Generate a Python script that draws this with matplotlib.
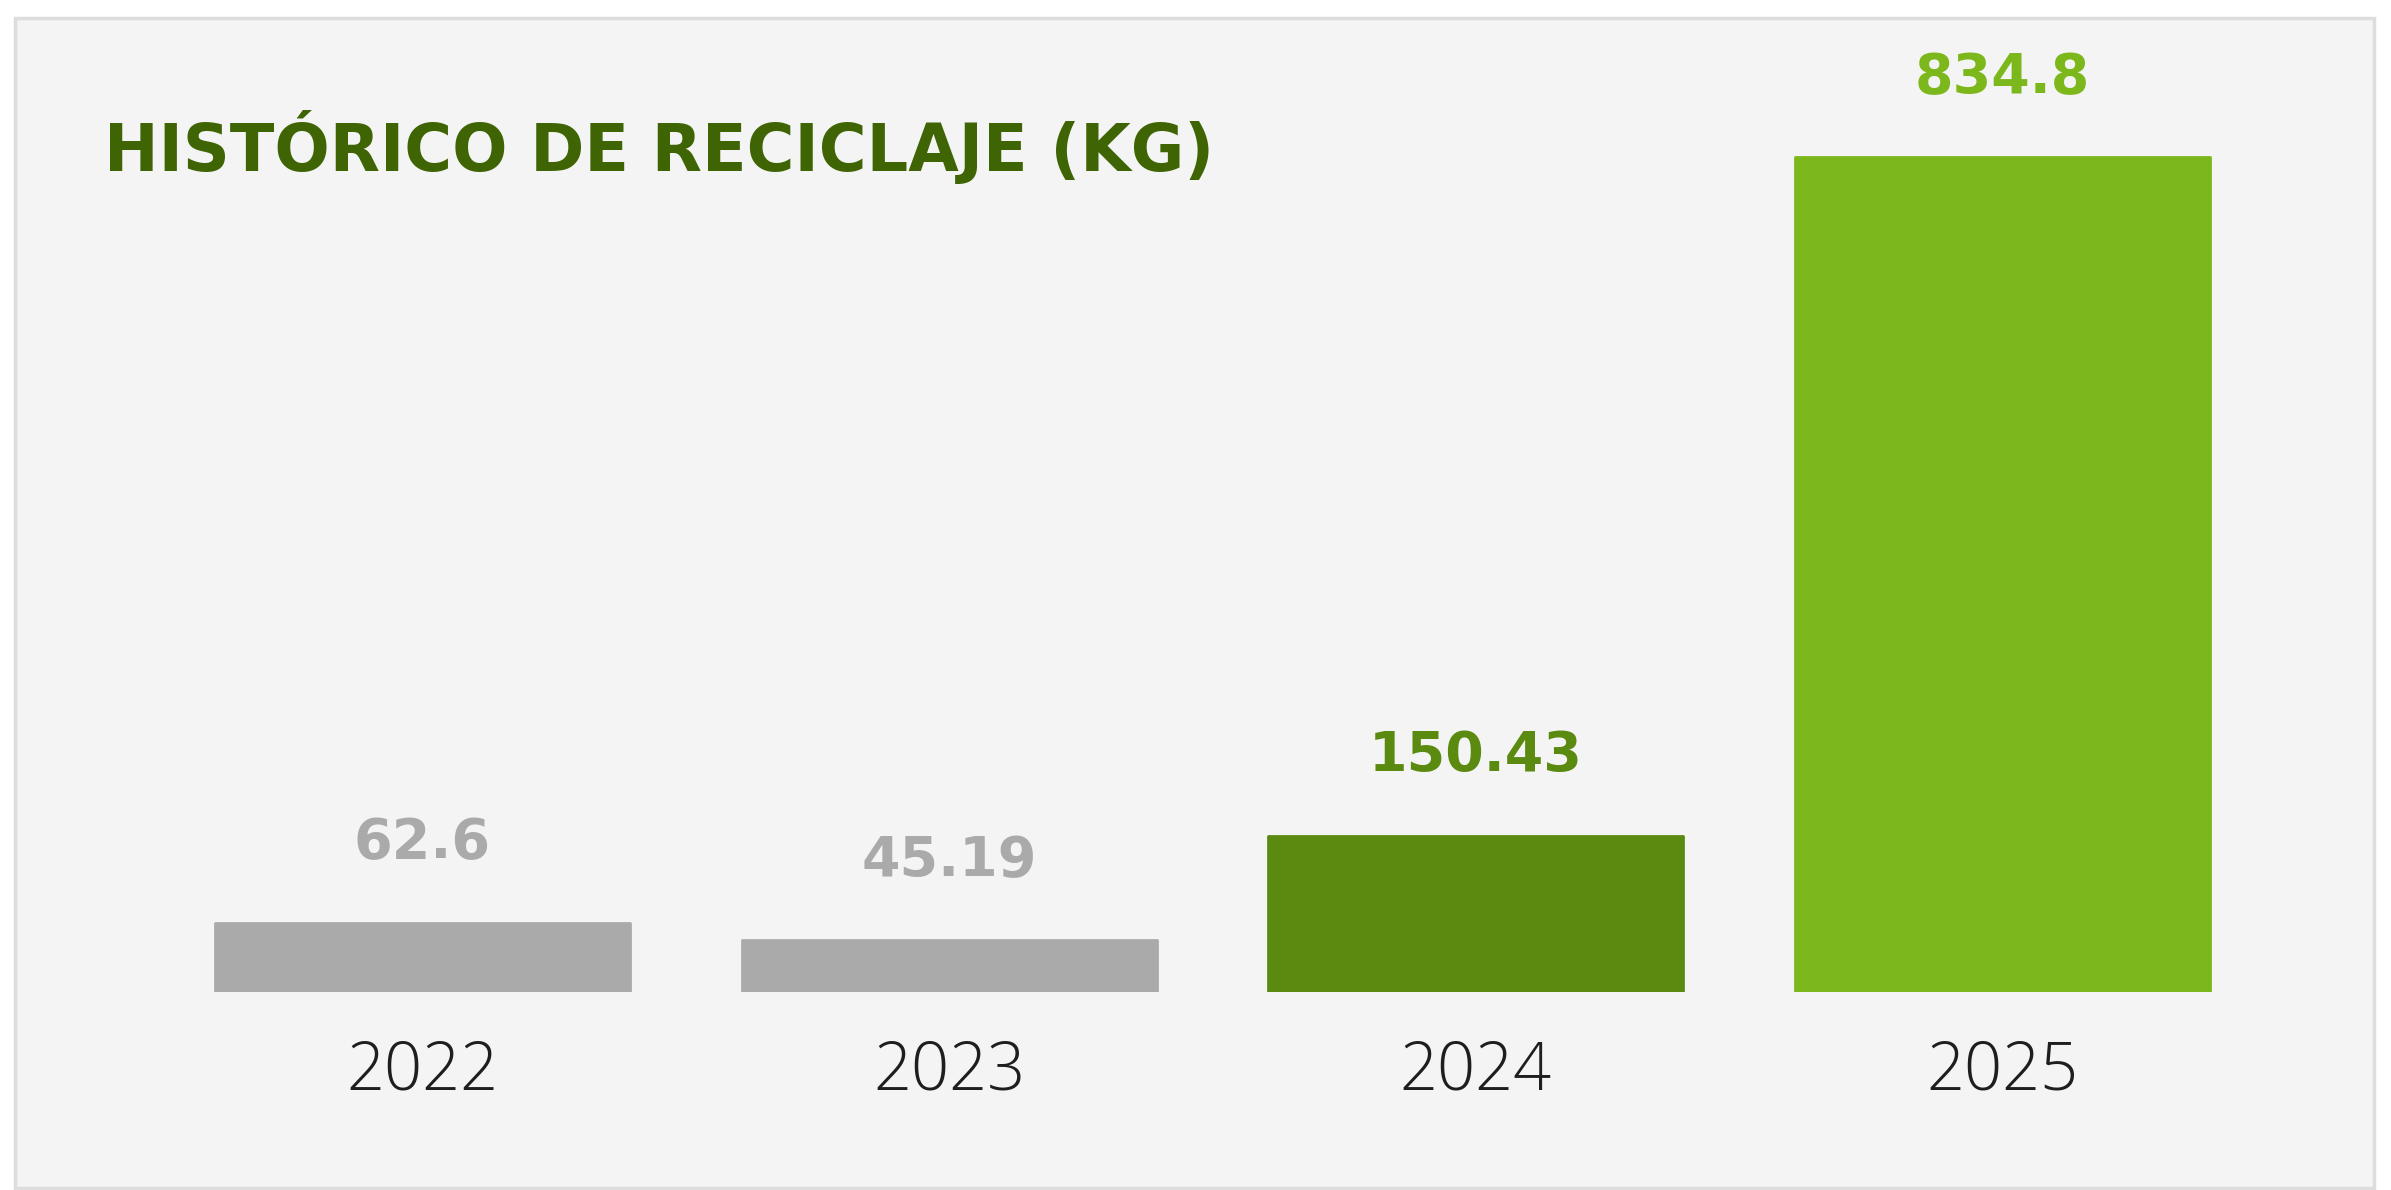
import matplotlib.pyplot as plt
from matplotlib.patches import Rectangle

# data
years = ['2022', '2023', '2024', '2025']
values = [62.6, 45.19, 150.43, 834.8]
value_labels = ['62.6', '45.19', '150.43', '834.8']
bar_colors = ['#aaaaaa', '#aaaaaa', '#5b8a10', '#7cb81b']
label_colors = ['#aaaaaa', '#aaaaaa', '#5b8a10', '#7cb81b']

W, H = 2391, 1190
fig = plt.figure(figsize=(W / 100, H / 100), dpi=100)
fig.patch.set_facecolor('white')

# grey card behind the chart
fig.patches.append(Rectangle((10 / 1568, 1 / 780), 1547 / 1568, 767 / 780,
                             transform=fig.transFigure, facecolor='#f4f4f4',
                             edgecolor='#dddddd', linewidth=2.5, zorder=-5))

ax = fig.add_axes([0.06655, 1 - 650 / 780, 0.8810, 638 / 780])
ax.set_facecolor('none')
ax.set_zorder(2)

base = -7  # bars start a little below zero
x = list(range(len(years)))
heights = [v - base for v in values]
ax.bar(x, heights, bottom=base, width=0.788, color=bar_colors,
       edgecolor=bar_colors, linewidth=2, joinstyle='round')

for xi, v, lab, c in zip(x, values, value_labels, label_colors):
    ax.annotate(lab, (xi, v), xytext=(0, 57), textcoords='offset points',
                ha='center', va='center', fontsize=40, fontweight='bold',
                color=c, family=['DejaVu Sans'])

ax.set_xlim(-0.5, 3.5)
ax.set_ylim(base, 975)
ax.set_xticks(x)
ax.set_xticklabels(years, fontsize=48, color='#1e1e1e', family=['Open Sans', 'DejaVu Sans'],
                   fontweight='light')
ax.tick_params(axis='x', length=0, pad=34)
ax.set_yticks([])
for s in ax.spines.values():
    s.set_visible(False)

fig.text(68 / 1568, 1 - 97 / 780, 'HISTÓRICO DE RECICLAJE (KG)', ha='left', va='center',
         fontsize=47, fontweight='bold', color='#3e6404', family=['DejaVu Sans'])

fig.savefig('out.png', dpi=100)
